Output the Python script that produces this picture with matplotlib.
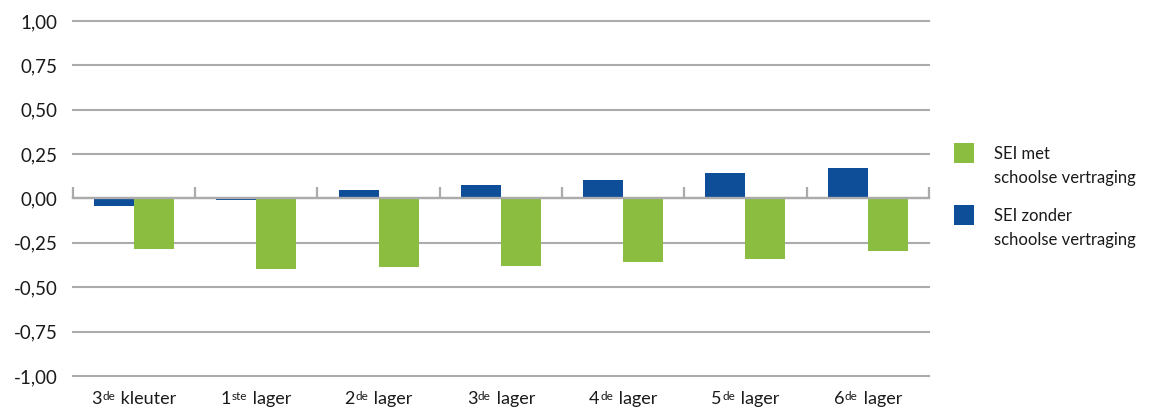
import matplotlib
matplotlib.use("Agg")
import matplotlib.pyplot as plt
from matplotlib.patches import Rectangle
from matplotlib.ticker import FixedLocator, FuncFormatter
from matplotlib.offsetbox import TextArea, HPacker, AnnotationBbox

# Grades (ordinal number, superscript suffix, level name)
grade_numbers = ["3", "1", "2", "3", "4", "5", "6"]
grade_suffixes = ["de", "ste", "de", "de", "de", "de", "de"]
grade_levels = ["kleuter", "lager", "lager", "lager", "lager", "lager", "lager"]

# Mean SEI score per grade
sei_zonder = [-0.04, -0.01, 0.045, 0.075, 0.105, 0.145, 0.17]
sei_met = [-0.285, -0.40, -0.385, -0.38, -0.355, -0.34, -0.295]

series_titles = ["SEI met", "SEI zonder"]
series_subtitle = "schoolse vertraging"
y_ticks = [-1.0, -0.75, -0.5, -0.25, 0.0, 0.25, 0.5, 0.75, 1.0]

GREEN = "#8bbd41"
BLUE = "#0e4d97"
GRID = "#ababab"
TEXT = "#1a1a1a"

plt.rcParams["font.family"] = ["Lato", "DejaVu Sans"]
plt.rcParams["text.color"] = TEXT

W, H = 1151, 409
fig = plt.figure(figsize=(W / 100, H / 100), dpi=100)
ax = fig.add_axes([0.0632, 0.0807, 0.7439, 0.868])

x = list(range(len(grade_numbers)))
bw = 0.327
ax.bar([i - bw / 2 for i in x], sei_zonder, width=bw, color=BLUE, zorder=3)
ax.bar([i + bw / 2 for i in x], sei_met, width=bw, color=GREEN, zorder=3)

ax.set_xlim(-0.5, len(x) - 0.5)
ax.set_ylim(-1.0, 1.0)

# horizontal gridlines with comma decimals
ax.set_yticks(y_ticks)
ax.yaxis.set_major_formatter(FuncFormatter(lambda v, p: f"{v:.2f}".replace(".", ",")))
ax.yaxis.grid(True, color=GRID, linewidth=1.5, zorder=0)
for gl in ax.get_ygridlines():
    gl.set_clip_on(False)
ax.tick_params(axis="y", length=0, pad=11, labelsize=13.5, labelcolor=TEXT)

for s in ["left", "right", "top"]:
    ax.spines[s].set_visible(False)

# category axis through zero, with boundary ticks pointing up
ax.spines["bottom"].set_position(("data", 0))
ax.spines["bottom"].set_color(GRID)
ax.spines["bottom"].set_linewidth(1.7)
ax.spines["bottom"].set_zorder(4)
ax.xaxis.set_major_locator(FixedLocator([]))
ax.xaxis.set_minor_locator(FixedLocator([i - 0.5 for i in range(len(x) + 1)]))
ax.tick_params(axis="x", which="minor", direction="in", length=8, width=1.6, color=GRID)

# category labels along the bottom edge, with superscript suffixes
for i, (n, s, lvl) in enumerate(zip(grade_numbers, grade_suffixes, grade_levels)):
    parts = [
        TextArea(n, textprops=dict(size=13, color=TEXT)),
        TextArea(s, textprops=dict(size=8.5, color=TEXT)),
        TextArea(" " + lvl, textprops=dict(size=13, color=TEXT)),
    ]
    box = HPacker(children=parts, align="top", pad=0, sep=0.5)
    ab = AnnotationBbox(box, (i, 0), xycoords=ax.get_xaxis_transform(),
                        xybox=(0, -11), boxcoords="offset points",
                        box_alignment=(0.5, 1), frameon=False, pad=0,
                        annotation_clip=False)
    ax.add_artist(ab)

# legend: square marker beside a two-line label
sq = 20
for k, (title, color) in enumerate(zip(series_titles, [GREEN, BLUE])):
    top = 143 + 62 * k
    fig.add_artist(Rectangle((954 / W, 1 - (top + sq) / H), sq / W, sq / H,
                             transform=fig.transFigure, facecolor=color,
                             edgecolor="none"))
    fig.text(994 / W, 1 - (top + 16) / H, title, fontsize=12, va="baseline",
             ha="left", color=TEXT)
    fig.text(994 / W, 1 - (top + 40) / H, series_subtitle, fontsize=12,
             va="baseline", ha="left", color=TEXT)

fig.savefig("out.png", dpi=100)
